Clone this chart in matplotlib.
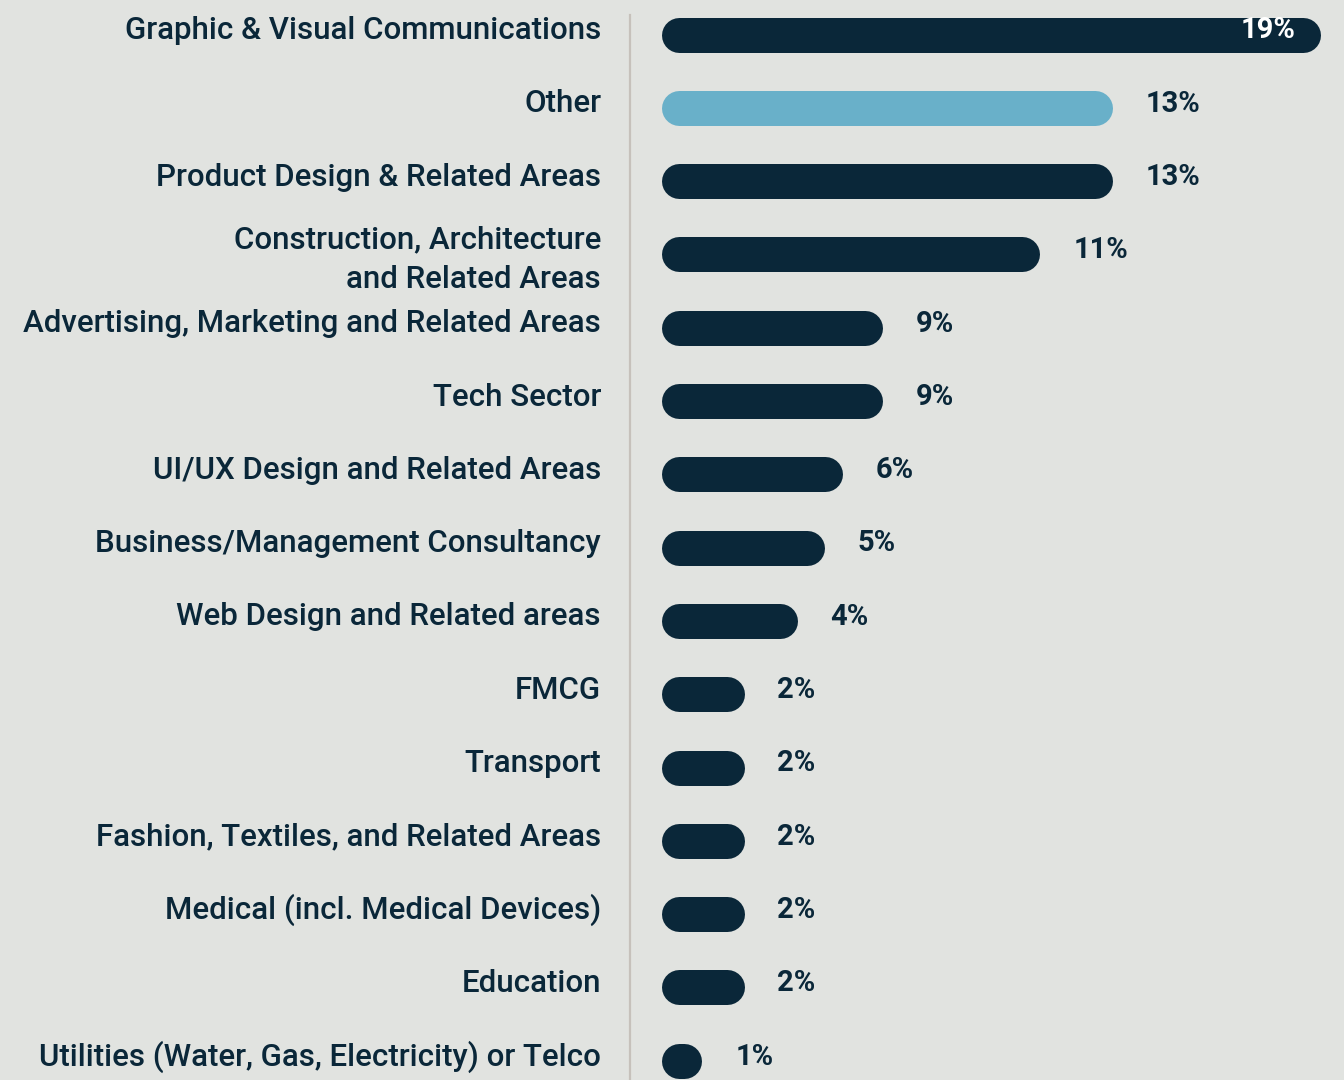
import matplotlib
matplotlib.use("Agg")
import matplotlib.pyplot as plt
from matplotlib.lines import Line2D
import matplotlib.transforms as mtransforms

categories = [
    "Graphic & Visual Communications",
    "Other",
    "Product Design & Related Areas",
    "Construction, Architecture\nand Related Areas",
    "Advertising, Marketing and Related Areas",
    "Tech Sector",
    "UI/UX Design and Related Areas",
    "Business/Management Consultancy",
    "Web Design and Related areas",
    "FMCG",
    "Transport",
    "Fashion, Textiles, and Related Areas",
    "Medical (incl. Medical Devices)",
    "Education",
    "Utilities (Water, Gas, Electricity) or Telco",
]
# displayed percentages
pct_labels = [19, 13, 13, 11, 9, 9, 6, 5, 4, 2, 2, 2, 2, 2, 1]
# bar lengths as drawn in the reference (not strictly proportional)
bar_lengths = [19.0, 12.67, 12.67, 10.47, 5.69, 5.69, 4.45, 3.90, 3.08,
               1.46, 1.46, 1.46, 1.46, 1.46, 0.18]
highlight = "Other"

BG = "#e1e3e0"
NAVY = "#0a2739"
LIGHT = "#69b0c9"
LINE = "#c6c1bb"

plt.rcParams['font.family'] = ['Roboto', 'DejaVu Sans']

fig = plt.figure(figsize=(13.44, 10.80), dpi=100, facecolor=BG)
ax = fig.add_axes([0, 0, 1, 1])
ax.set_facecolor(BG)
ax.set_xlim(-20.66, 20.26)
ax.set_ylim(14.263, -0.4707)
ax.axis('off')

bar_lw = 35 * 72 / 100  # 35 px thick
ys = list(range(len(categories)))
for y, cat, L, p in zip(ys, categories, bar_lengths, pct_labels):
    color = LIGHT if cat == highlight else NAVY
    ax.plot([0, L], [y, y], color=color, lw=bar_lw, solid_capstyle='round')
    if p == max(pct_labels):
        ax.annotate(f"{p}%", xy=(L, y), xytext=(-5, 3), textcoords='offset points',
                    ha='right', va='center', color='white', fontsize=21, fontweight='bold')
    else:
        ax.annotate(f"{p}%", xy=(L, y), xytext=(36.5, 3), textcoords='offset points',
                    ha='left', va='center', color=NAVY, fontsize=21, fontweight='bold')

trans = mtransforms.blended_transform_factory(fig.transFigure, ax.transData)
for y, cat in zip(ys, categories):
    dy = -5 if "\n" in cat else 4
    off = mtransforms.ScaledTranslation(0, dy / 100, fig.dpi_scale_trans)
    ax.text(601 / 1344, y, cat, transform=trans + off, ha='right', va='center',
            multialignment='right', fontsize=22.5, fontweight='medium', color=NAVY,
            linespacing=1.45)

fig.add_artist(Line2D([630 / 1344, 630 / 1344], [0, 1 - 15 / 1080],
                      transform=fig.transFigure, color=LINE, lw=1.6))

fig.savefig("out.png", dpi=100, facecolor=BG)
